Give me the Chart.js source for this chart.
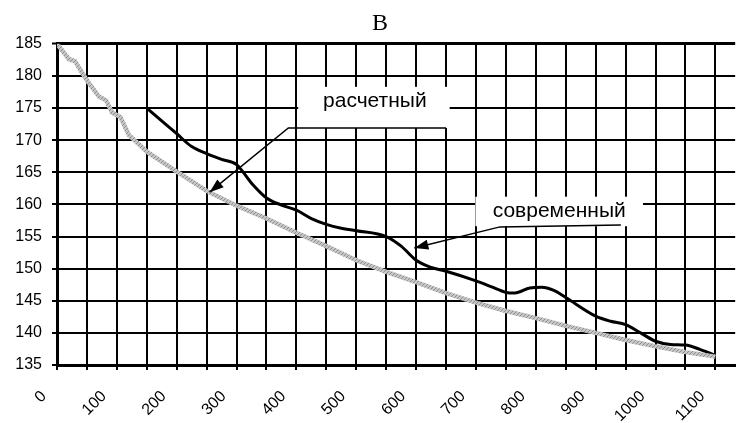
<!DOCTYPE html>
<html>
<head>
<meta charset="utf-8">
<script src="https://cdn.jsdelivr.net/npm/chart.js@4.4.1/dist/chart.umd.min.js"></script>
<style>
  html, body { margin: 0; padding: 0; background: #fff; }
  #wrap { width: 746px; height: 423px; }
</style>
</head>
<body>
<div id="wrap"><canvas id="profile"></canvas></div>
<script>
// Расчетный профиль (серая линия)
const calcX = [0, 20, 30, 50, 70, 82, 92, 106, 120, 150, 200, 250, 300, 350, 400, 450, 500,
  550, 600, 650, 700, 750, 800, 850, 900, 950, 1000, 1050, 1100];
const calcY = [185, 182.6, 182.3, 179.3, 176.8, 176.2, 174.3, 173.6, 170.8, 168.2, 165.1, 162.1,
  159.8, 157.8, 155.6, 153.5, 151.3, 149.5, 147.9, 146.2, 144.7, 143.4, 142.3, 141.1, 140.0,
  138.9, 137.9, 137.0, 136.3];

// Современный профиль (черная линия)
const modernX = [150, 200, 225, 250, 275, 300, 325, 350, 375, 400, 425, 450, 475, 500, 550, 575,
  600, 625, 650, 700, 725, 750, 765, 790, 810, 830, 850, 900, 925, 950, 975, 1000, 1025, 1050,
  1075, 1100];
const modernY = [175, 171, 169, 167.9, 167.0, 166.2, 163.3, 161.0, 159.9, 159.1, 157.8, 156.9,
  156.3, 155.9, 155.0, 153.5, 151.3, 150.2, 149.6, 148.1, 147.2, 146.3, 146.2, 147.0, 147.1,
  146.6, 145.5, 142.6, 141.8, 141.3, 140.0, 138.7, 138.2, 138.1, 137.4, 136.5];

const yMin = 135, yMax = 185, yStep = 5;
const xMin = 0, xLast = 1100, xMax = 1133;
const xGridStep = 50, xLabelStep = 100;

// выноски: прямоугольник [x1, y1, x2, y2], центр подписи, ломаная до стрелки
const callouts = [
  { text: 'расчетный', box: [403, 178.3, 656, 171.9], label: [531, 176.1],
    leader: [[650, 171.9], [386.5, 171.9], [255, 161.9]] },
  { text: 'современный', box: [699, 161.2, 979, 156.6], label: [839, 159.0],
    leader: [[942, 156.8], [740, 156.5], [597, 153.2]] }
];

const toPoints = (xs, ys) => xs.map((x, i) => ({ x: x, y: ys[i] }));

// штриховка для расчетной линии
function hatchPattern() {
  const c = document.createElement('canvas');
  c.width = 4; c.height = 4;
  const g = c.getContext('2d');
  g.fillStyle = '#c6c6c6';
  g.fillRect(0, 0, 4, 4);
  g.fillStyle = '#8e8e8e';
  for (let i = 0; i < 4; i++) g.fillRect(i, 3 - i, 1, 1);
  return g.createPattern(c, 'repeat');
}

function arrowHead(ctx, from, to, len, half) {
  const a = Math.atan2(to.y - from.y, to.x - from.x);
  ctx.beginPath();
  ctx.moveTo(to.x, to.y);
  ctx.lineTo(to.x - len * Math.cos(a) + half * Math.sin(a), to.y - len * Math.sin(a) - half * Math.cos(a));
  ctx.lineTo(to.x - len * Math.cos(a) - half * Math.sin(a), to.y - len * Math.sin(a) + half * Math.cos(a));
  ctx.closePath();
  ctx.fill();
}

const calloutPlugin = {
  id: 'callouts',
  afterDatasetsDraw(chart) {
    const { ctx, scales: { x, y } } = chart;
    ctx.save();
    callouts.forEach(c => {
      const x1 = x.getPixelForValue(c.box[0]), y1 = y.getPixelForValue(c.box[1]);
      const x2 = x.getPixelForValue(c.box[2]), y2 = y.getPixelForValue(c.box[3]);
      ctx.fillStyle = '#fff';
      ctx.fillRect(x1, y1, x2 - x1, y2 - y1);

      const pts = c.leader.map(p => ({ x: x.getPixelForValue(p[0]), y: y.getPixelForValue(p[1]) }));
      ctx.strokeStyle = '#000';
      ctx.lineWidth = 1.5;
      ctx.beginPath();
      pts.forEach((p, i) => i ? ctx.lineTo(p.x, p.y) : ctx.moveTo(p.x, p.y));
      ctx.stroke();
      ctx.fillStyle = '#000';
      arrowHead(ctx, pts[pts.length - 2], pts[pts.length - 1], 14, 5);

      ctx.font = '21px "Liberation Sans", Arial, sans-serif';
      ctx.textAlign = 'center';
      ctx.textBaseline = 'middle';
      ctx.fillText(c.text, x.getPixelForValue(c.label[0]), y.getPixelForValue(c.label[1]));
    });
    ctx.restore();
  }
};

const tickFont = { family: '"Liberation Sans", Arial, sans-serif', size: 16 };

new Chart(document.getElementById('profile'), {
  type: 'line',
  data: {
    datasets: [
      {
        label: 'расчетный',
        data: toPoints(calcX, calcY),
        borderColor: hatchPattern(),
        borderWidth: 4.5,
        pointRadius: 0,
        tension: 0
      },
      {
        label: 'современный',
        data: toPoints(modernX, modernY),
        borderColor: '#000',
        borderWidth: 3,
        pointRadius: 0,
        cubicInterpolationMode: 'monotone'
      }
    ]
  },
  options: {
    responsive: true,
    maintainAspectRatio: false,
    animation: false,
    layout: { padding: { left: 14, right: 0, top: 0, bottom: 0 } },
    plugins: {
      legend: { display: false },
      tooltip: { enabled: false },
      title: {
        display: true,
        text: 'В',
        color: '#000',
        font: { family: '"Liberation Serif", "Times New Roman", serif', size: 24, weight: 'normal' },
        padding: { top: 9, bottom: 6 }
      }
    },
    scales: {
      x: {
        type: 'linear',
        min: xMin,
        max: xMax,
        afterBuildTicks: scale => {
          const t = [];
          for (let v = xMin; v <= xLast; v += xGridStep) t.push({ value: v });
          scale.ticks = t;
        },
        afterFit: scale => { scale.height = 58; },
        grid: { color: '#000', lineWidth: 2, tickLength: 5, tickColor: '#000', tickWidth: 2 },
        border: { color: '#000', width: 3 },
        ticks: {
          autoSkip: false,
          minRotation: 45,
          maxRotation: 45,
          labelOffset: -13,
          padding: 17,
          color: '#000',
          font: tickFont,
          callback: v => (v % xLabelStep === 0 ? String(v) : '')
        }
      },
      y: {
        min: yMin,
        max: yMax,
        afterFit: scale => { scale.width = 43; },
        grid: {
          color: '#000',
          lineWidth: c => (c.tick && c.tick.value === yMax ? 3 : 2),
          tickLength: 5,
          tickColor: '#000',
          tickWidth: 2
        },
        border: { color: '#000', width: 3 },
        ticks: { stepSize: yStep, padding: 10, color: '#000', font: tickFont }
      }
    }
  },
  plugins: [calloutPlugin]
});
</script>
</body>
</html>
